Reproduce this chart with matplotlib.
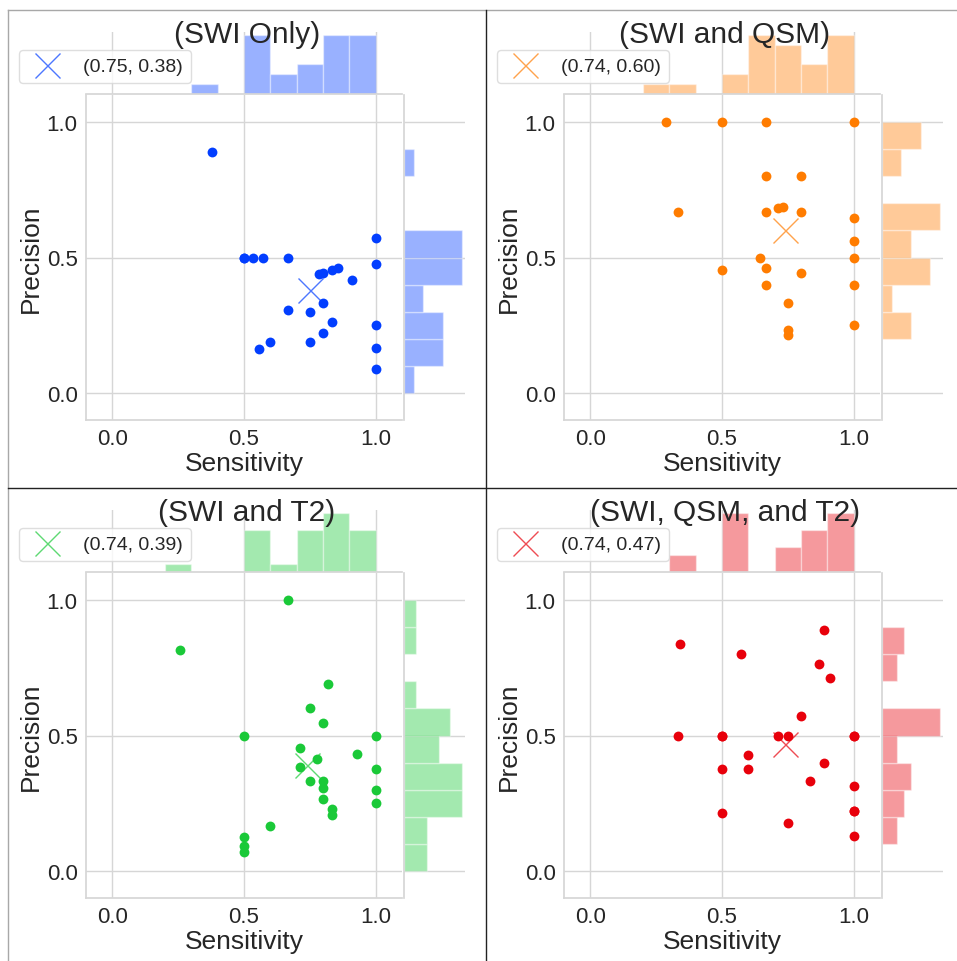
import numpy as np
import matplotlib
matplotlib.use('Agg')
import matplotlib.pyplot as plt
from matplotlib.lines import Line2D

plt.rcParams['font.family'] = ['Liberation Sans', 'DejaVu Sans']
plt.rcParams['text.color'] = '#262626'
plt.rcParams['xtick.color'] = '#262626'
plt.rcParams['ytick.color'] = '#262626'
plt.rcParams['axes.labelcolor'] = '#262626'

W, H = 957, 962

titles = ['(SWI Only)', '(SWI and QSM)', '(SWI and T2)', '(SWI, QSM, and T2)']
dot_colors = ['#023eff', '#ff7c00', '#1ac938', '#e8000b']

# valores (sensibilidad, precision)
swi_sens = [0.38, 0.5, 0.5, 0.533, 0.571, 0.667, 1.0, 1.0, 0.786, 0.8, 0.833, 0.857,
            0.909, 0.8, 0.667, 0.75, 0.833, 1.0, 0.8, 0.6, 0.75, 0.556, 1.0, 1.0]
swi_prec = [0.889, 0.5, 0.5, 0.5, 0.5, 0.5, 0.571, 0.475, 0.44, 0.444, 0.455, 0.462,
            0.417, 0.333, 0.308, 0.3, 0.263, 0.25, 0.222, 0.188, 0.188, 0.161, 0.167, 0.087]

qsm_sens = [0.286, 0.5, 0.667, 1.0, 0.667, 0.8, 0.333, 0.714, 0.733, 0.667, 0.8, 1.0,
            1.0, 0.643, 1.0, 0.5, 0.667, 0.8, 0.667, 1.0, 0.75, 0.75, 0.75, 1.0]
qsm_prec = [1.0, 1.0, 1.0, 1.0, 0.8, 0.8, 0.667, 0.682, 0.688, 0.667, 0.667, 0.647,
            0.56, 0.5, 0.5, 0.455, 0.462, 0.444, 0.4, 0.4, 0.333, 0.231, 0.214, 0.25]

t2_sens = [0.257, 0.667, 0.818, 0.75, 0.8, 0.5, 1.0, 0.714, 0.929, 0.778, 0.714, 1.0,
           0.75, 0.8, 0.8, 1.0, 0.8, 0.833, 0.833, 1.0, 0.6, 0.5, 0.5, 0.5]
t2_prec = [0.817, 1.0, 0.692, 0.6, 0.545, 0.5, 0.5, 0.455, 0.433, 0.412, 0.385, 0.375,
           0.333, 0.333, 0.308, 0.3, 0.267, 0.227, 0.208, 0.25, 0.167, 0.125, 0.091, 0.071]

all_sens = [0.342, 0.571, 0.889, 0.867, 0.909, 0.8, 0.333, 0.5, 0.714, 0.75, 1.0, 0.6,
            0.5, 0.6, 0.889, 0.833, 1.0, 1.0, 0.5, 0.75, 1.0, 0.5, 1.0, 1.0]
all_prec = [0.838, 0.8, 0.889, 0.765, 0.714, 0.571, 0.5, 0.5, 0.5, 0.5, 0.5, 0.429,
            0.375, 0.375, 0.4, 0.333, 0.313, 0.222, 0.214, 0.176, 0.13, 0.5, 0.5, 0.222]

mean_sens = [0.75, 0.74, 0.74, 0.74]
mean_prec = [0.38, 0.60, 0.39, 0.47]

bins = np.linspace(0, 1, 11)
grid_color = '#d6d6d6'


def px_axes(fig, l, t, r, b):
    return fig.add_axes([l / W, 1 - b / H, (r - l) / W, (b - t) / H])


def style_axes(ax, keep):
    for side in ['left', 'right', 'top', 'bottom']:
        ax.spines[side].set_visible(side in keep)
        ax.spines[side].set_color(grid_color)
        ax.spines[side].set_linewidth(1.25)
    ax.tick_params(length=0)
    ax.set_facecolor('white')


def draw_panel(fig, dx, dy, sens, prec, mx, my, title, color):
    ax = px_axes(fig, 86 + dx, 96 + dy, 402 + dx, 421 + dy)
    ax_top = px_axes(fig, 86 + dx, 33 + dy, 402 + dx, 95 + dy)
    ax_right = px_axes(fig, 404 + dx, 96 + dy, 465 + dx, 421 + dy)

    style_axes(ax, ['left', 'bottom'])
    ax.grid(True, color=grid_color, linewidth=1)
    ax.set_axisbelow(True)
    ax.scatter(sens, prec, s=50, color=color, linewidths=0, zorder=3)
    ax.plot([mx], [my], ls='none', marker='x', ms=18, mew=1, color=color,
            alpha=0.7, zorder=4, label=f'({mx:.2f}, {my:.2f})')
    ax.set_xlim(-0.1, 1.1)
    ax.set_ylim(-0.1, 1.1)
    ax.set_xticks([0, 0.5, 1.0])
    ax.set_yticks([0, 0.5, 1.0])
    ax.set_xticklabels(['0.0', '0.5', '1.0'])
    ax.set_yticklabels(['0.0', '0.5', '1.0'])
    ax.tick_params(labelsize=16, pad=6)
    ax.set_xlabel('Sensitivity', fontsize=19, labelpad=1)
    ax.set_ylabel('Precision', fontsize=19, labelpad=3)

    style_axes(ax_top, ['bottom'])
    ax_top.hist(sens, bins=bins, color=color, alpha=0.4, edgecolor='white', linewidth=1)
    ax_top.set_xlim(-0.1, 1.1)
    ax_top.set_xticks([0, 0.5, 1.0])
    ax_top.set_yticks([])
    ax_top.xaxis.grid(True, color=grid_color, linewidth=1)
    ax_top.yaxis.grid(False)
    ax_top.set_axisbelow(True)
    ax_top.tick_params(labelbottom=False, labelleft=False)

    style_axes(ax_right, ['left'])
    ax_right.hist(prec, bins=bins, orientation='horizontal', color=color, alpha=0.4,
                  edgecolor='white', linewidth=1)
    ax_right.set_ylim(-0.1, 1.1)
    ax_right.set_yticks([0, 0.5, 1.0])
    ax_right.set_xticks([])
    ax_right.yaxis.grid(True, color=grid_color, linewidth=1)
    ax_right.xaxis.grid(False)
    ax_right.set_axisbelow(True)
    ax_right.tick_params(labelbottom=False, labelleft=False)

    fig.text((247 + dx) / W, 1 - (43 + dy) / H, title, fontsize=21.5,
             ha='center', va='baseline', zorder=6)

    handles, labels = ax.get_legend_handles_labels()
    fig.legend(handles, labels, loc='upper left',
               bbox_to_anchor=((19 + dx) / W, 1 - (51 + dy) / H),
               bbox_transform=fig.transFigure, borderaxespad=0, fontsize=14,
               handlelength=2.1, handletextpad=0.8, borderpad=0.4,
               edgecolor='#d6d6d6', framealpha=0.8, fancybox=True)


def draw_borders(fig):
    def line(x0, y0, x1, y1, color, lw):
        fig.add_artist(Line2D([x0 / W, x1 / W], [1 - y0 / H, 1 - y1 / H],
                              transform=fig.transFigure, color=color, linewidth=lw))
    line(8, 11, W, 11, '#a8a8a8', 1.0)
    line(8, 11, 8, H, '#a8a8a8', 1.0)
    line(486, 11, 486, H, '#222222', 1.0)
    line(8, 489, W, 489, '#222222', 1.0)


fig = plt.figure(figsize=(W / 100, H / 100), dpi=100)
fig.patch.set_facecolor('white')

data = [(swi_sens, swi_prec), (qsm_sens, qsm_prec), (t2_sens, t2_prec), (all_sens, all_prec)]
offsets = [(0, 0), (478, 0), (0, 478), (478, 478)]
for i in range(4):
    dx, dy = offsets[i]
    draw_panel(fig, dx, dy, data[i][0], data[i][1], mean_sens[i], mean_prec[i],
               titles[i], dot_colors[i])

draw_borders(fig)
fig.savefig('out.png', dpi=100)
